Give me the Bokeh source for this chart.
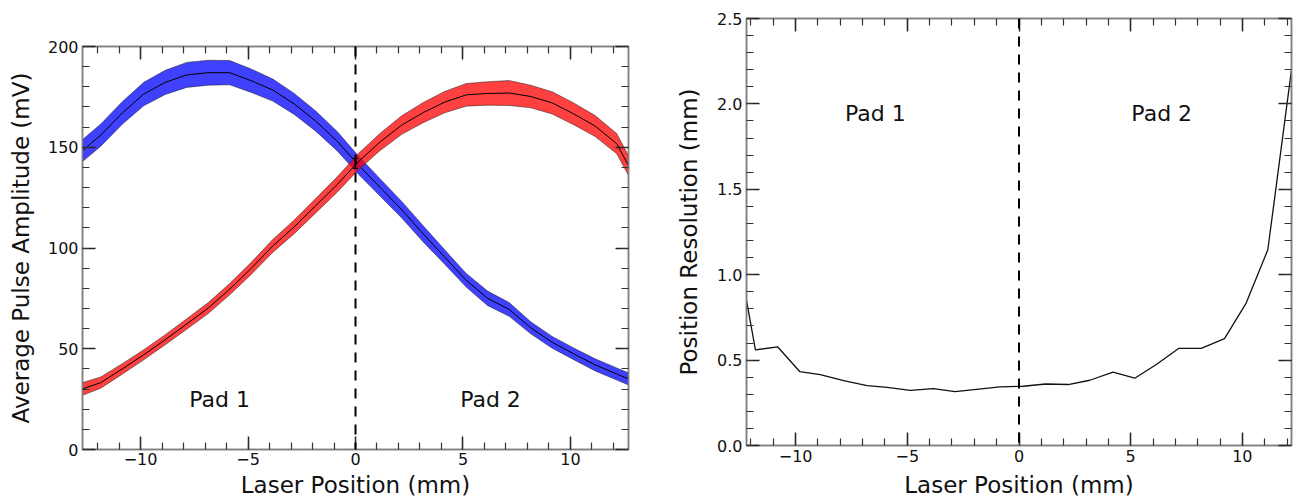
from bokeh.plotting import figure
from bokeh.models import LinearAxis, FixedTicker, Span, NumeralTickFormatter, CustomLabelingPolicy
from bokeh.embed import file_html
from bokeh.resources import INLINE
from bokeh.core.properties import value

# ---------------- data ----------------
pos = [-12.85, -11.85, -10.85, -9.85, -8.85, -7.85, -6.85, -5.85, -4.85, -3.85,
       -2.85, -1.85, -0.85, 0.15, 1.15, 2.15, 3.15, 4.15, 5.15, 6.15, 7.15,
       8.15, 9.15, 10.15, 11.15, 12.15, 13.15]

pad1_amp = [147, 156, 167, 176.4, 182.2, 185.9, 187, 187, 183, 178.4,
            171.5, 163, 153, 141, 130, 119, 107, 95.5, 84, 75, 69.5,
            60.4, 53.2, 47.5, 42, 37.5, 33]
pad1_err = [5.4, 5.5, 5.6, 5.8, 6.0, 6.2, 6.2, 6.0, 5.8, 5.5,
            5.2, 5.0, 4.8, 4.5, 4.3, 4.1, 4.0, 3.6, 3.4, 3.6, 3.4,
            3.0, 2.9, 2.9, 3.0, 3.0, 3.0]

pad2_amp = [29.5, 33.2, 40, 47, 54.5, 62.3, 70.2, 79.6, 89.9, 101,
            110.5, 121, 131.5, 143, 152.7, 161, 167.2, 172.4, 176, 176.7, 176.9,
            175.2, 172, 166.6, 160.5, 151.8, 132]
pad2_err = [3.2, 2.8, 2.6, 2.5, 2.5, 2.6, 2.7, 2.8, 3.0, 3.2,
            3.4, 3.6, 3.8, 4.0, 4.3, 4.6, 5.0, 5.3, 5.6, 5.8, 6.2,
            5.6, 5.5, 5.4, 5.2, 5.0, 4.8]

cross_x = [0.0]
cross_y = [142.0]
cross_err = [2.5]

res_x = [-12.2, -11.8, -10.8, -9.82, -8.9, -7.85, -6.8, -5.9, -4.87, -3.83,
         -2.86, -1.8, -0.85, 0.19, 1.19, 2.2, 3.17, 4.21, 5.18, 6.15, 7.16,
         8.16, 9.2, 10.17, 11.14, 12.2]
res_y = [0.85, 0.56, 0.577, 0.433, 0.415, 0.38, 0.35, 0.34, 0.323, 0.333,
         0.316, 0.33, 0.343, 0.347, 0.36, 0.357, 0.382, 0.429, 0.394, 0.474, 0.569,
         0.569, 0.626, 0.834, 1.146, 2.2]

x_ticks = [-10, -5, 0, 5, 10]
x_minor = list(range(-13, 14))
amp_ticks = [0, 50, 100, 150, 200]
amp_minor = list(range(0, 201, 10))
res_ticks = [0.0, 0.5, 1.0, 1.5, 2.0, 2.5]
res_minor = [i / 10 for i in range(0, 26)]
x_labels = {-10: "\u221210", -5: "\u22125", 0: "0", 5: "5", 10: "10"}

pad_labels = ["Pad 1", "Pad 2"]

FONT = "DejaVu Sans"
FRAME = "#7f7f7f"

HIDE_LABELS = "for (const i of indices) indices.unset(i)\nreturn indices"


def style_axis(ax, ticks, minor, show_labels=True):
    ax.ticker = FixedTicker(ticks=ticks, minor_ticks=minor)
    ax.axis_line_color = FRAME
    ax.axis_line_width = 1.5
    ax.major_tick_in = 13
    ax.major_tick_out = 0
    ax.minor_tick_in = 7
    ax.minor_tick_out = 0
    ax.major_tick_line_color = "#222222"
    ax.major_tick_line_width = 1.5
    ax.minor_tick_line_color = "#333333"
    ax.minor_tick_line_width = 1.2
    ax.major_label_text_font = FONT
    ax.major_label_text_color = "#111111"
    ax.axis_label_text_font = FONT
    ax.axis_label_text_font_style = "normal"
    ax.axis_label_text_color = "#111111"
    if show_labels:
        ax.major_label_text_font_size = "16px"
        ax.axis_label_text_font_size = "23px"
    else:
        ax.major_label_text_font_size = "1px"
        ax.major_label_standoff = 0
        ax.major_label_policy = CustomLabelingPolicy(code=HIDE_LABELS)
        ax.axis_label = None


def add_mirrors(p, xt, xm, yt, ym):
    top = LinearAxis()
    right = LinearAxis()
    style_axis(top, xt, xm, show_labels=False)
    style_axis(right, yt, ym, show_labels=False)
    p.add_layout(top, "above")
    p.add_layout(right, "right")


def band(p, xs, ys, es, color):
    upper = [y + e for y, e in zip(ys, es)]
    lower = [y - e for y, e in zip(ys, es)]
    p.patch(xs + xs[::-1], upper + lower[::-1], fill_color=color, fill_alpha=0.75,
            line_color="#1a1a1a", line_width=0.7, line_alpha=0.7)
    p.line(xs, ys, line_color="black", line_width=1)


# ---------------- left panel ----------------
p1 = figure(width=664, height=500, x_range=(-12.7, 12.7), y_range=(0, 200),
            output_backend="svg", toolbar_location=None,
            min_border_left=82, min_border_right=36, min_border_top=46, min_border_bottom=40)
p1.xgrid.visible = False
p1.ygrid.visible = False
p1.outline_line_color = FRAME
p1.outline_line_width = 1.5
p1.background_fill_color = "white"
p1.border_fill_color = "white"

style_axis(p1.xaxis[0], x_ticks, x_minor)
style_axis(p1.yaxis[0], amp_ticks, amp_minor)
p1.xaxis[0].major_label_overrides = x_labels
p1.xaxis[0].axis_label = "Laser Position (mm)"
p1.yaxis[0].axis_label = "Average Pulse Amplitude (mV)"
p1.xaxis[0].major_label_standoff = 3
p1.yaxis[0].major_label_standoff = 4
p1.xaxis[0].axis_label_standoff = 4
p1.yaxis[0].axis_label_standoff = 11
add_mirrors(p1, x_ticks, x_minor, amp_ticks, amp_minor)

band(p1, pos, pad1_amp, pad1_err, "#0000ff")
band(p1, pos, pad2_amp, pad2_err, "#ff0000")

p1.segment(x0=cross_x, y0=[y - e for y, e in zip(cross_y, cross_err)],
           x1=cross_x, y1=[y + e for y, e in zip(cross_y, cross_err)],
           line_color="black", line_width=1.5)
p1.scatter(x=cross_x + cross_x,
           y=[cross_y[0] - cross_err[0], cross_y[0] + cross_err[0]],
           marker="dash", size=5, line_color="black", line_width=1.2)

p1.add_layout(Span(location=0, dimension="height", line_color="black",
                   line_width=2, line_dash="10 8"))

p1.text(x=[-6.32, 6.28], y=[25, 25], text=pad_labels, text_align="center",
        text_baseline="middle", text_font=value(FONT), text_font_size="22px",
        text_color="#111111")

# ---------------- right panel ----------------
p2 = figure(width=632, height=500, x_range=(-12.2, 12.2), y_range=(0, 2.5),
            output_backend="svg", toolbar_location=None,
            min_border_left=82, min_border_right=4, min_border_top=18, min_border_bottom=40)
p2.xgrid.visible = False
p2.ygrid.visible = False
p2.outline_line_color = FRAME
p2.outline_line_width = 1.5
p2.background_fill_color = "white"
p2.border_fill_color = "white"

style_axis(p2.xaxis[0], x_ticks, x_minor)
style_axis(p2.yaxis[0], res_ticks, res_minor)
p2.xaxis[0].major_label_overrides = x_labels
p2.yaxis[0].formatter = NumeralTickFormatter(format="0.0")
p2.xaxis[0].axis_label = "Laser Position (mm)"
p2.yaxis[0].axis_label = "Position Resolution (mm)"
p2.xaxis[0].major_label_standoff = 4
p2.yaxis[0].major_label_standoff = 4
p2.xaxis[0].axis_label_standoff = 7
p2.yaxis[0].axis_label_standoff = 12
add_mirrors(p2, x_ticks, x_minor, res_ticks, res_minor)

p2.line(res_x, res_y, line_color="#111111", line_width=1.3)
p2.add_layout(Span(location=0, dimension="height", line_color="black",
                   line_width=2, line_dash="10 8"))
p2.text(x=[-6.43, 6.39], y=[1.944, 1.944], text=pad_labels, text_align="center",
        text_baseline="middle", text_font=value(FONT), text_font_size="22px",
        text_color="#111111")

# two independent roots placed side by side (frames are not aligned to each other)
side_by_side = """
{% block postamble %}
<style>
  body { display: flex !important; flex-direction: row; align-items: flex-start; margin: 0; }
</style>
{% endblock %}
"""

open("out.html", "w").write(file_html([p1, p2], INLINE, template=side_by_side))
